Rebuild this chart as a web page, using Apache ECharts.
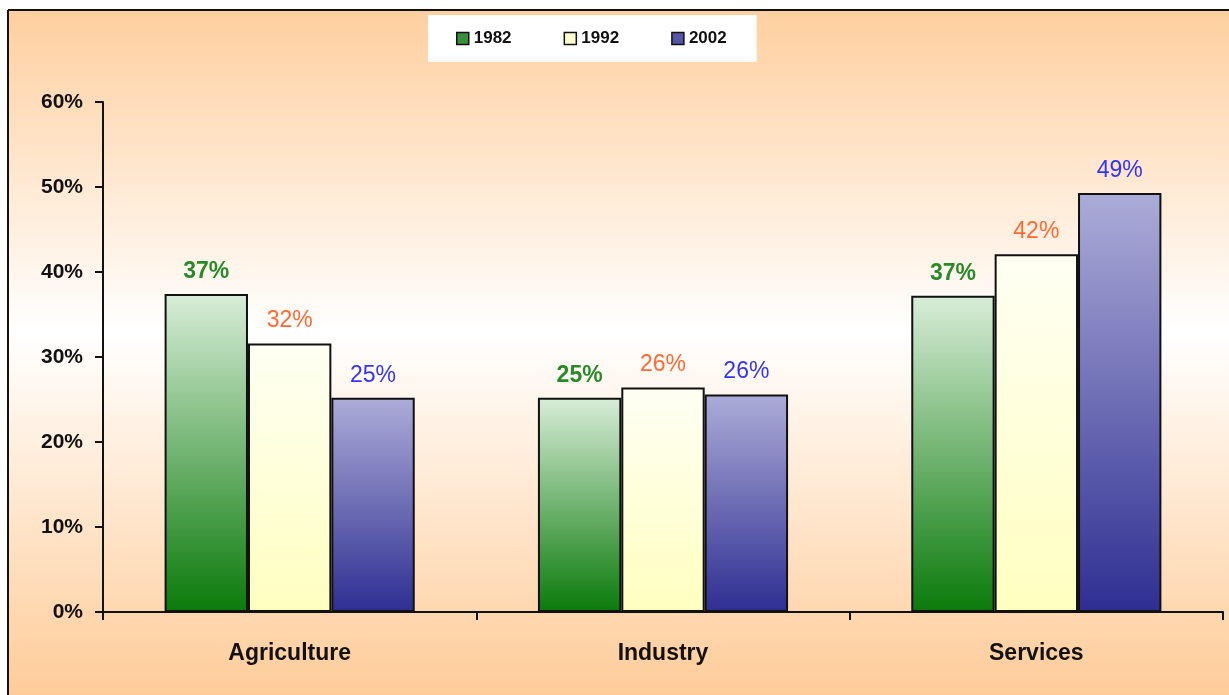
<!DOCTYPE html>
<html>
<head>
<meta charset="utf-8">
<script src="https://cdn.jsdelivr.net/npm/echarts@6/dist/echarts.min.js"></script>
<style>html,body{margin:0;padding:0;background:#fff;}#c{width:1229px;height:695px;}</style>
</head>
<body>
<div id="c"></div>
<script>
var categories = ['Agriculture', 'Industry', 'Services'];
var seriesNames = ['1982', '1992', '2002'];
var values1982 = [37.4, 25.2, 37.2];
var values1992 = [31.6, 26.4, 42.1];
var values2002 = [25.2, 25.6, 49.3];
var yTicks = [0, 10, 20, 30, 40, 50, 60];

var chart = echarts.init(document.getElementById('c'));
function grad(top, bottom) {
  return new echarts.graphic.LinearGradient(0, 0, 0, 1, [
    {offset: 0, color: top}, {offset: 1, color: bottom}
  ]);
}
var styles = [
  {fill: grad('#d8edd8', '#0a7a0a'), label: '#2a8a2a', legend: '#3a8f3a'},
  {fill: grad('#fffff4', '#ffffc0'), label: '#ff6a33', legend: '#ffffcc'},
  {fill: grad('#acacd8', '#2e2e92'), label: '#3333ff', legend: '#5555a8'}
];
var allValues = [values1982, values1992, values2002];
var font = '"Liberation Sans", Arial, sans-serif';

var series = seriesNames.map(function (name, i) {
  return {
    name: name,
    type: 'bar',
    data: allValues[i],
    barGap: '0%',
    barCategoryGap: '33%',
    itemStyle: {color: styles[i].fill, borderColor: '#111', borderWidth: 2},
    label: {
      show: true, position: 'top', distance: 11,
      color: styles[i].label, fontFamily: font, fontSize: 23,
      fontWeight: i === 0 ? 'bold' : 'normal',
      formatter: function (p) { return Math.round(p.value) + '%'; }
    }
  };
});

chart.setOption({
  backgroundColor: '#fff',
  animation: false,
  graphic: [
    {type: 'rect', z: -10, silent: true, shape: {x: 8, y: 10, width: 1221, height: 685},
      style: {fill: new echarts.graphic.LinearGradient(0, 0, 0, 1, [
        {offset: 0, color: '#ffcf9f'}, {offset: 0.47, color: '#ffffff'}, {offset: 1, color: '#ffcc99'}
      ], false)}},
    {type: 'line', z: -5, silent: true, shape: {x1: 8, y1: 10, x2: 1229, y2: 10}, style: {stroke: '#111', lineWidth: 2}},
    {type: 'line', z: -5, silent: true, shape: {x1: 8, y1: 10, x2: 8, y2: 695}, style: {stroke: '#111', lineWidth: 2}}
  ],
  legend: {
    left: 428, top: 15,
    padding: [15, 30, 15, 28],
    backgroundColor: '#ffffff',
    itemWidth: 12, itemHeight: 12, itemGap: 52,
    textStyle: {fontFamily: font, fontSize: 17, fontWeight: 'bold', color: '#111'},
    data: seriesNames.map(function (n, i) {
      return {name: n, icon: 'rect', itemStyle: {color: styles[i].legend, borderColor: '#111', borderWidth: 1.5}};
    })
  },
  grid: {left: 103, right: 6, top: 102, bottom: 83, containLabel: false},
  xAxis: {
    type: 'category', data: categories,
    axisLine: {lineStyle: {color: '#111', width: 2}},
    axisTick: {show: true, length: 8, lineStyle: {color: '#111', width: 2}},
    axisLabel: {margin: 30, color: '#111', fontFamily: font, fontSize: 23, fontWeight: 'bold'}
  },
  yAxis: {
    type: 'value', min: yTicks[0], max: yTicks[yTicks.length - 1], interval: 10,
    axisLine: {show: true, lineStyle: {color: '#111', width: 2}},
    axisTick: {show: true, length: 8, lineStyle: {color: '#111', width: 2}},
    splitLine: {show: false},
    axisLabel: {margin: 20, color: '#111', fontFamily: font, fontSize: 21, fontWeight: 'bold',
      formatter: function (v) { return v + '%'; }}
  },
  series: series
});
</script>
</body>
</html>
